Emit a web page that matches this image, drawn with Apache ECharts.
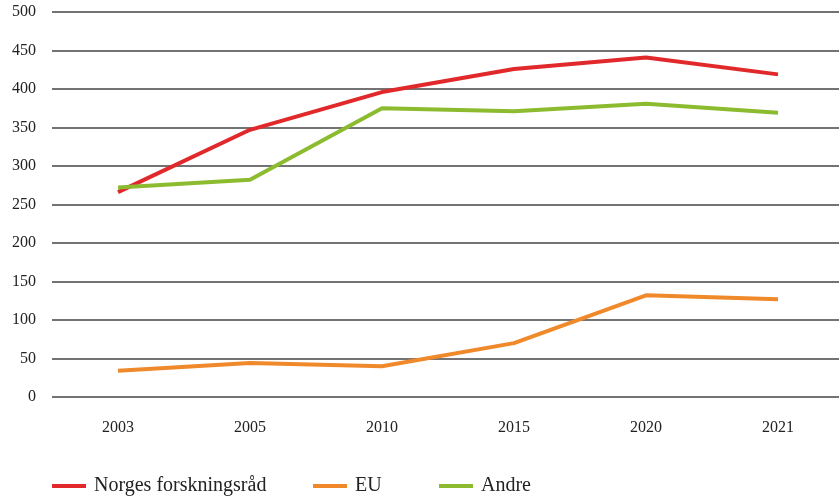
<!DOCTYPE html>
<html><head><meta charset="utf-8">
<script src="https://cdn.jsdelivr.net/npm/echarts@6/dist/echarts.min.js"></script>
<style>html,body{margin:0;padding:0;background:#fff}#c{width:839px;height:498px}</style>
</head><body><div id="c"></div>
<script>
const categories = ['2003','2005','2010','2015','2020','2021'];
const norges = [266, 347, 396, 426, 441, 419];
const eu = [34, 44, 40, 70, 132, 127];
const andre = [272, 282, 375, 371, 381, 369];
const seriesNames = ['Norges forskningsråd','EU','Andre'];
const colors = ['#e1292b','#f0892a','#8cbb2f'];
const font = 'Liberation Serif';
const legendLeft = [52, 313, 439];
const chart = echarts.init(document.getElementById('c'));
chart.setOption({
  animation:false,
  color: colors,
  grid:{left:52, right:-5, top:12, bottom:101, outerBoundsMode:'none', containLabel:false},
  legend: seriesNames.map((n,i)=>({left:legendLeft[i], top:476, padding:0, itemWidth:34, itemHeight:4, icon:'rect',
    textStyle:{fontFamily:font, fontSize:20, color:'#222', padding:[0,0,0,3]},
    data:[n]})),
  xAxis:{type:'category', data:categories, boundaryGap:true,
    axisLine:{show:false}, axisTick:{show:false},
    axisLabel:{fontFamily:font, fontSize:16, color:'#222', margin:23}},
  yAxis:{type:'value', min:0, max:500, interval:50,
    axisLine:{show:false}, axisTick:{show:false},
    axisLabel:{fontFamily:font, fontSize:16, color:'#222', margin:16}},
  series:[
    {name:seriesNames[0], type:'line', data:norges, symbol:'none', lineStyle:{width:4}},
    {name:seriesNames[1], type:'line', data:eu, symbol:'none', lineStyle:{width:4}},
    {name:seriesNames[2], type:'line', data:andre, symbol:'none', lineStyle:{width:4}}
  ]
});
chart.setOption({yAxis:{splitLine:{lineStyle:{color:'#444', width:1.5}}}});
</script></body></html>
